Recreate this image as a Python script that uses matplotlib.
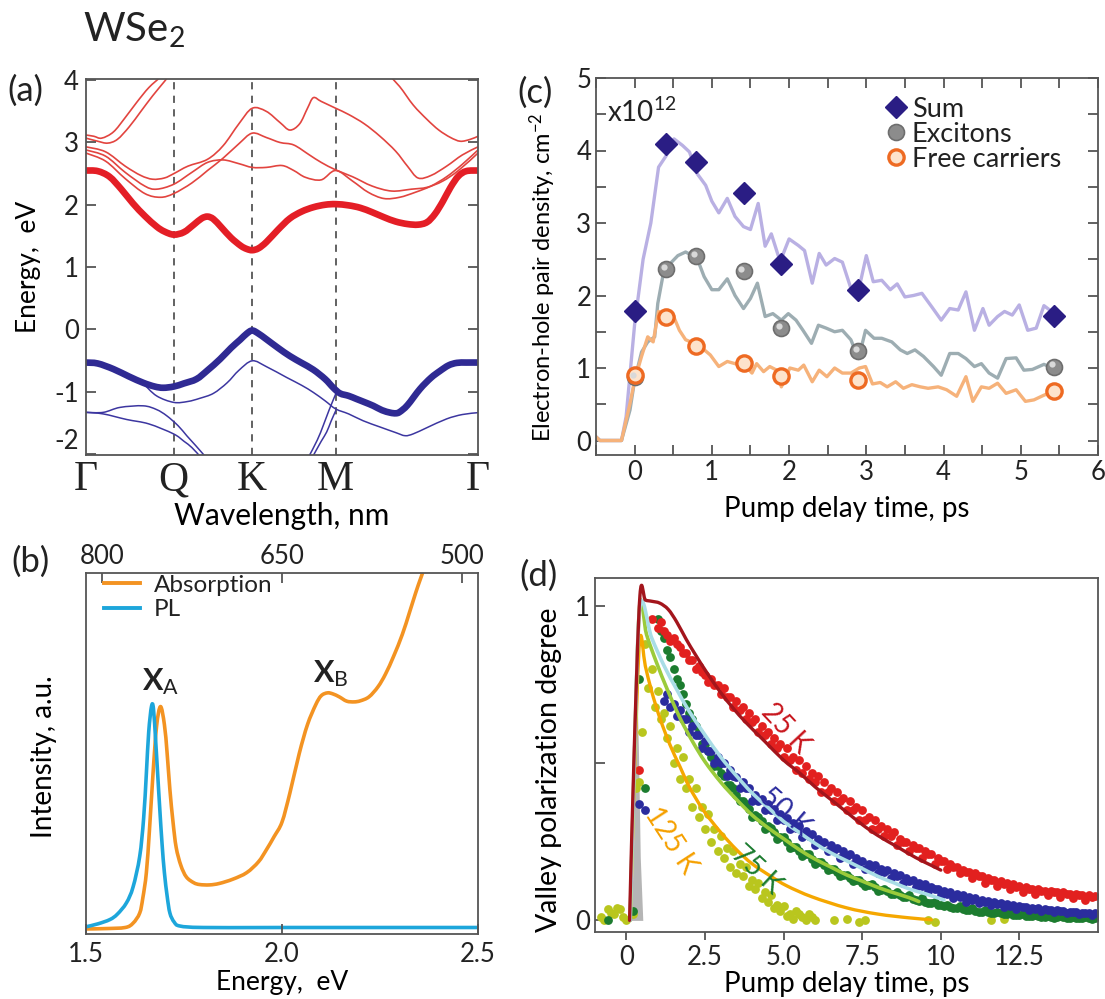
import matplotlib.pyplot as plt
import numpy as np
from matplotlib.path import Path
from matplotlib.patches import PathPatch
from matplotlib.transforms import ScaledTranslation

plt.rcParams.update({
    "font.family": ["Lato", "DejaVu Sans"],
    "mathtext.fontset": "custom",
    "mathtext.rm": "Lato",
    "mathtext.it": "Lato:italic",
    "mathtext.bf": "Lato:bold",
    "axes.unicode_minus": False,
    "axes.edgecolor": "#555555",
    "axes.linewidth": 1.3,
    "xtick.color": "#555555",
    "ytick.color": "#555555",
    "xtick.labelcolor": "#222222",
    "ytick.labelcolor": "#222222",
    "text.color": "#222222",
})

# ---- (a) band structure ---------------------------------------------------
k_sym = [0.0, 0.224, 0.424, 0.637, 1.0]
k_names = ["Γ", "Q", "K", "M", "Γ"]

cb1_k = [0, 0.03, 0.06, 0.09, 0.12, 0.15, 0.18, 0.20, 0.224, 0.25, 0.275, 0.295,
         0.31, 0.325, 0.345, 0.37, 0.395, 0.41, 0.424, 0.44, 0.46, 0.49, 0.52,
         0.55, 0.58, 0.61, 0.637, 0.67, 0.70, 0.73, 0.76, 0.79, 0.82, 0.847,
         0.87, 0.89, 0.91, 0.93, 0.95, 0.97, 1.0]
cb1_e = [2.55, 2.54, 2.45, 2.25, 2.02, 1.82, 1.65, 1.57, 1.52, 1.56, 1.68, 1.78,
         1.81, 1.77, 1.64, 1.47, 1.34, 1.29, 1.27, 1.30, 1.40, 1.60, 1.78,
         1.89, 1.96, 2.00, 2.01, 1.99, 1.95, 1.88, 1.80, 1.73, 1.69, 1.68,
         1.72, 1.85, 2.05, 2.28, 2.46, 2.54, 2.55]

cba_k = [0, 0.05, 0.10, 0.14, 0.17, 0.20, 0.224, 0.26, 0.31, 0.35, 0.39, 0.424,
         0.46, 0.495, 0.52, 0.545, 0.565, 0.58, 0.60, 0.637, 0.67, 0.71, 0.75,
         0.79, 0.82, 0.847, 0.88, 0.92, 0.96, 1.0]
cba_e = [2.93, 2.85, 2.62, 2.47, 2.41, 2.43, 2.50, 2.62, 2.73, 2.95, 3.30, 3.55,
         3.50, 3.32, 3.20, 3.30, 3.55, 3.72, 3.66, 3.55, 3.45, 3.30, 3.10,
         2.86, 2.62, 2.43, 2.47, 2.62, 2.80, 2.93]
cbb_k = [0, 0.05, 0.10, 0.15, 0.18, 0.224, 0.27, 0.31, 0.35, 0.39, 0.424, 0.46,
         0.50, 0.53, 0.56, 0.60, 0.637, 0.68, 0.72, 0.76, 0.80, 0.84, 0.88,
         0.92, 0.96, 1.0]
cbb_e = [2.88, 2.78, 2.52, 2.30, 2.25, 2.33, 2.52, 2.68, 2.72, 2.66, 2.60, 2.60,
         2.63, 2.55, 2.44, 2.40, 2.55, 2.38, 2.20, 2.10, 2.12, 2.20, 2.30,
         2.45, 2.65, 2.88]
cbc_k = [0, 0.05, 0.10, 0.15, 0.19, 0.224, 0.27, 0.31, 0.35, 0.39, 0.424, 0.46,
         0.495, 0.53, 0.57, 0.60, 0.637, 0.68, 0.73, 0.78, 0.83, 0.87, 0.91,
         0.95, 1.0]
cbc_e = [2.83, 2.70, 2.42, 2.18, 2.12, 2.18, 2.35, 2.55, 2.75, 2.98, 3.15, 3.08,
         3.00, 2.96, 2.80, 2.68, 2.56, 2.45, 2.30, 2.22, 2.25, 2.28, 2.38,
         2.55, 2.83]
cbd_k = [0, 0.03, 0.055, 0.08, 0.11, 0.14, 0.17, 0.20, 0.215]
cbd_e = [3.07, 3.02, 2.99, 3.05, 3.25, 3.50, 3.75, 3.98, 4.10]
cbe_k = [0, 0.02, 0.04, 0.07, 0.10, 0.13, 0.16, 0.19, 0.20]
cbe_e = [3.12, 3.10, 3.07, 3.17, 3.40, 3.65, 3.88, 4.05, 4.10]
cbf_k = [0.77, 0.80, 0.835, 0.87, 0.90, 0.93, 0.955, 0.98, 1.0]
cbf_e = [4.10, 3.90, 3.60, 3.37, 3.20, 3.08, 3.02, 3.05, 3.10]

vb1_k = [0, 0.03, 0.07, 0.11, 0.146, 0.175, 0.197, 0.224, 0.25, 0.282, 0.31,
         0.342, 0.37, 0.393, 0.41, 0.424, 0.44, 0.46, 0.49, 0.52, 0.55, 0.58,
         0.61, 0.631, 0.648, 0.67, 0.69, 0.71, 0.733, 0.755, 0.776, 0.79, 0.80,
         0.82, 0.852, 0.88, 0.903, 0.925, 0.946, 0.97, 1.0]
vb1_e = [-0.535, -0.55, -0.64, -0.76, -0.86, -0.92, -0.94, -0.92, -0.87, -0.80,
         -0.66, -0.48, -0.30, -0.17, -0.07, -0.02, -0.07, -0.16, -0.30, -0.43,
         -0.54, -0.65, -0.80, -0.94, -1.03, -1.07, -1.12, -1.17, -1.23, -1.30,
         -1.34, -1.35, -1.33, -1.22, -0.96, -0.78, -0.67, -0.58, -0.54, -0.535,
         -0.535]
vb2_k = [0.146, 0.18, 0.224, 0.26, 0.29, 0.325, 0.36, 0.39, 0.424, 0.46, 0.512,
         0.55, 0.58, 0.61, 0.637, 0.67, 0.707, 0.75, 0.79, 0.814, 0.835, 0.87,
         0.92, 0.96, 1.0]
vb2_e = [-0.87, -1.07, -1.175, -1.16, -1.11, -1.03, -0.86, -0.66, -0.507, -0.60,
         -0.775, -0.90, -1.015, -1.15, -1.28, -1.36, -1.47, -1.57, -1.66, -1.71,
         -1.68, -1.58, -1.44, -1.37, -1.34]
vb3_k = [0, 0.044, 0.087, 0.146, 0.18, 0.206, 0.235, 0.257, 0.28, 0.305]
vb3_e = [-1.335, -1.335, -1.255, -1.23, -1.29, -1.39, -1.55, -1.71, -1.87, -2.05]
vb4_k = [0, 0.044, 0.104, 0.16, 0.223, 0.25, 0.27, 0.292]
vb4_e = [-1.335, -1.36, -1.45, -1.52, -1.68, -1.80, -1.90, -2.05]
vb5_k = [0.568, 0.59, 0.605, 0.62, 0.637]
vb5_e = [-2.05, -1.78, -1.55, -1.30, -1.04]
vb6_k = [0.578, 0.60, 0.614, 0.625, 0.637]
vb6_e = [-2.05, -1.80, -1.65, -1.48, -1.31]

# ---- (b) absorption and PL ---------------------------------------------
abs_e = [1.50, 1.55, 1.60, 1.62, 1.637, 1.645, 1.654, 1.662, 1.671, 1.68, 1.69,
         1.70, 1.707, 1.714, 1.722, 1.73, 1.742, 1.756, 1.775, 1.79, 1.815, 1.84,
         1.875, 1.91, 1.94, 1.96, 1.98, 2.00, 2.02, 2.044, 2.065, 2.086, 2.10,
         2.116, 2.13, 2.146, 2.165, 2.184, 2.20, 2.222, 2.245, 2.264, 2.285,
         2.307, 2.325, 2.341, 2.352, 2.362]
abs_i = [0.014, 0.015, 0.018, 0.03, 0.058, 0.10, 0.17, 0.29, 0.445, 0.575, 0.63,
         0.58, 0.50, 0.40, 0.31, 0.24, 0.19, 0.158, 0.142, 0.137, 0.136, 0.14,
         0.152, 0.17, 0.20, 0.233, 0.27, 0.31, 0.39, 0.50, 0.58, 0.635, 0.66,
         0.668, 0.665, 0.657, 0.645, 0.643, 0.646, 0.657, 0.685, 0.72, 0.77,
         0.83, 0.89, 0.945, 0.98, 1.01]
pl_e = [1.50, 1.53, 1.561, 1.58, 1.603, 1.62, 1.637, 1.647, 1.654, 1.66, 1.667,
        1.672, 1.678, 1.683, 1.688, 1.694, 1.70, 1.707, 1.714, 1.725, 1.74,
        1.80, 2.00, 2.50]
pl_i = [0.02, 0.028, 0.04, 0.055, 0.086, 0.13, 0.215, 0.32, 0.445, 0.56, 0.63,
        0.625, 0.53, 0.44, 0.35, 0.25, 0.17, 0.105, 0.058, 0.033, 0.022,
        0.018, 0.018, 0.018]
top_tick_ev = [1.54, 2.00, 2.46]
top_tick_nm = ["800", "650", "500"]

# ---- (c) carrier densities (x1e12 cm^-2) ----------------------------------
mark_t = [0.0, 0.41, 0.80, 1.41, 1.90, 2.89, 5.43]
sum_pts = [1.78, 4.09, 3.84, 3.42, 2.43, 2.07, 1.72]
exc_pts = [0.88, 2.37, 2.54, 2.34, 1.55, 1.24, 1.02]
free_pts = [0.91, 1.71, 1.30, 1.07, 0.89, 0.83, 0.68]

sum_t = [-0.5, -0.45, -0.17, -0.11, 0.0, 0.11, 0.21, 0.31, 0.41, 0.51, 0.62,
         0.71, 0.81, 0.92, 1.0, 1.09, 1.2, 1.3, 1.41, 1.5, 1.6, 1.69, 1.77,
         1.86, 1.9, 2.0, 2.12, 2.2, 2.3, 2.39, 2.48, 2.59, 2.69, 2.8, 2.9, 3.0,
         3.09, 3.2, 3.31, 3.4, 3.5, 3.61, 3.72, 3.85, 3.97, 4.08, 4.19, 4.29,
         4.4, 4.51, 4.59, 4.7, 4.79, 4.89, 4.98, 5.09, 5.2, 5.3, 5.4]
sum_y = [0.05, 0.0, 0.0, 0.33, 1.6, 2.5, 3.0, 3.77, 3.93, 4.16, 4.07, 3.98,
         3.68, 3.52, 3.3, 3.14, 3.34, 3.09, 2.95, 2.91, 3.27, 2.68, 2.85, 2.55,
         2.51, 2.78, 2.69, 2.62, 2.17, 2.58, 2.42, 2.51, 2.46, 2.1, 2.07, 2.55,
         2.19, 2.21, 2.08, 2.16, 1.98, 2.0, 2.03, 1.84, 1.66, 1.82, 1.8, 2.05,
         1.52, 1.82, 1.59, 1.71, 1.78, 1.73, 1.87, 1.52, 1.55, 1.86, 1.78]
exc_t = [-0.5, -0.45, -0.17, -0.06, 0.0, 0.09, 0.17, 0.26, 0.3, 0.38, 0.46,
         0.56, 0.66, 0.75, 0.81, 0.9, 1.0, 1.09, 1.2, 1.3, 1.41, 1.5, 1.59,
         1.69, 1.79, 1.9, 1.99, 2.09, 2.18, 2.29, 2.38, 2.48, 2.59, 2.69, 2.8,
         2.9, 2.99, 3.1, 3.2, 3.33, 3.44, 3.53, 3.63, 3.74, 3.87, 3.97, 4.08,
         4.19, 4.29, 4.4, 4.49, 4.59, 4.7, 4.81, 4.94, 5.04, 5.15, 5.3, 5.42]
exc_y = [0.05, 0.0, 0.0, 0.42, 0.83, 1.22, 1.36, 1.43, 1.89, 2.35, 2.44, 2.55,
         2.6, 2.55, 2.51, 2.26, 2.08, 2.08, 2.23, 2.0, 1.82, 1.96, 2.17, 1.71,
         1.75, 1.66, 1.75, 1.66, 1.52, 1.34, 1.59, 1.55, 1.5, 1.52, 1.39, 1.13,
         1.52, 1.41, 1.41, 1.36, 1.25, 1.2, 1.25, 1.16, 1.02, 0.9, 1.2, 1.2,
         1.13, 1.02, 1.06, 0.93, 0.86, 1.13, 1.14, 0.97, 0.98, 1.05, 1.0]
free_t = [-0.5, -0.45, -0.17, -0.06, 0.0, 0.09, 0.17, 0.24, 0.31, 0.41, 0.49,
          0.58, 0.66, 0.77, 0.88, 0.98, 1.09, 1.2, 1.3, 1.41, 1.52, 1.58, 1.67,
          1.75, 1.84, 1.9, 2.01, 2.12, 2.19, 2.3, 2.39, 2.49, 2.59, 2.69, 2.8,
          2.91, 2.99, 3.08, 3.18, 3.27, 3.38, 3.48, 3.59, 3.7, 3.8, 3.93, 4.04,
          4.17, 4.29, 4.38, 4.49, 4.59, 4.7, 4.81, 4.94, 5.06, 5.17, 5.29, 5.42]
free_y = [0.05, 0.0, 0.0, 0.51, 0.83, 1.16, 1.43, 1.36, 1.78, 1.73, 1.75, 1.52,
          1.39, 1.34, 1.27, 1.18, 1.02, 1.09, 1.06, 1.06, 0.93, 1.06, 0.95, 1.02,
          0.97, 0.74, 1.0, 0.97, 1.04, 0.81, 0.97, 0.88, 1.0, 0.93, 0.93, 1.0,
          1.02, 0.78, 0.8, 0.74, 0.81, 0.72, 0.77, 0.74, 0.72, 0.74, 0.7, 0.61,
          0.88, 0.54, 0.74, 0.72, 0.79, 0.65, 0.7, 0.54, 0.56, 0.62, 0.68]

# ---- (d) valley polarization ------------------------------------------------
# two interleaved delay scans, 0.2 ps steps, offset by 0.1 ps
delay = np.arange(-0.8, 14.81, 0.2)
delay2 = delay + 0.1
nan = np.nan
vp_25 = [nan, nan, nan, nan, nan, nan, 0.48, nan,
         0.96, 0.93, 0.92, 0.89, 0.88, 0.85, 0.83, 0.80, 0.79, 0.76, 0.75, 0.72,
         0.71, 0.68, 0.67, 0.64, 0.63, 0.60, 0.59, 0.56, 0.55, 0.52, 0.51, 0.48,
         0.47, 0.45, 0.44, 0.41, 0.41, 0.38, 0.38, 0.35, 0.35, 0.32, 0.32, 0.29,
         0.29, 0.27, 0.27, 0.24, 0.25, 0.22, 0.23, 0.20, 0.21, 0.18, 0.19, 0.165,
         0.17, 0.15, 0.155, 0.135, 0.14, 0.12, 0.13, 0.11, 0.115, 0.10, 0.105,
         0.09, 0.10, 0.085, 0.095, 0.08, 0.09, 0.075, 0.085, 0.07, 0.08, 0.065,
         0.075]
vp_25b = [nan, nan, nan, nan, nan, nan, nan, nan, nan,
          0.95, 0.91, 0.90, 0.87, 0.85, 0.83, 0.81, 0.78, 0.77, 0.75, 0.74,
          0.71, 0.70, 0.68, 0.66, 0.64, 0.62, 0.60, 0.58, 0.56, 0.55, 0.52,
          0.51, 0.49, 0.47, 0.46, 0.44, 0.42, 0.41, 0.39, 0.38, 0.36, 0.35,
          0.33, 0.32, 0.30, 0.29, 0.28, 0.26, 0.25, 0.24, 0.23, 0.22, 0.21,
          0.20, 0.19, 0.18, 0.17, 0.16, 0.155, 0.15, 0.14, 0.135, 0.13, 0.125,
          0.12, 0.115, 0.11, 0.105, 0.10, 0.10, 0.095, 0.095, 0.09, 0.09,
          0.085, 0.085, 0.08, 0.08, 0.078]
vp_50 = [nan, nan, nan, nan, nan, nan, 0.37, 0.35, nan, nan,
         0.70, 0.68, 0.65, 0.64, 0.60, 0.59, 0.55, 0.54, 0.50, 0.50, 0.46, 0.46,
         0.42, 0.42, 0.38, 0.38, 0.35, 0.35, 0.32, 0.32, 0.29, 0.295, 0.265,
         0.27, 0.24, 0.245, 0.22, 0.225, 0.20, 0.205, 0.18, 0.185, 0.165, 0.17,
         0.15, 0.155, 0.135, 0.14, 0.12, 0.125, 0.105, 0.11, 0.095, 0.10, 0.08,
         0.085, 0.07, 0.075, 0.06, 0.065, 0.055, 0.058, 0.048, 0.052, 0.042,
         0.046, 0.037, 0.041, 0.033, 0.037, 0.03, 0.033, 0.026, 0.03, 0.024,
         0.027, 0.02, 0.024, 0.018]
vp_50b = [nan, nan, nan, nan, nan, nan, nan, nan, nan, nan,
          0.72, 0.69, 0.67, 0.64, 0.62, 0.59, 0.57, 0.54, 0.52, 0.50, 0.48,
          0.455, 0.44, 0.42, 0.40, 0.385, 0.37, 0.355, 0.34, 0.325, 0.31,
          0.30, 0.285, 0.275, 0.26, 0.25, 0.24, 0.23, 0.22, 0.21, 0.20, 0.19,
          0.18, 0.175, 0.165, 0.16, 0.15, 0.145, 0.135, 0.13, 0.12, 0.115,
          0.105, 0.10, 0.095, 0.09, 0.085, 0.08, 0.075, 0.07, 0.066, 0.062,
          0.058, 0.055, 0.052, 0.048, 0.046, 0.043, 0.04, 0.038, 0.036, 0.034,
          0.032, 0.03, 0.028, 0.027, 0.025, 0.024, 0.022]
vp_75 = [nan, 0.0, nan, nan, nan, 0.03, 0.77, 0.42, nan,
         0.96, 0.90, 0.84, 0.77, 0.72, 0.66, 0.62, 0.56, 0.54, 0.49, 0.47, 0.43,
         0.42, 0.38, 0.37, 0.33, 0.33, 0.29, 0.295, 0.26, 0.265, 0.23, 0.235,
         0.205, 0.21, 0.18, 0.185, 0.16, 0.165, 0.14, 0.145, 0.125, 0.13, 0.11,
         0.115, 0.095, 0.10, 0.085, 0.09, 0.075, 0.08, 0.065, 0.07, 0.055, 0.06,
         0.048, 0.05, 0.04, 0.045, 0.034, 0.038, 0.028, 0.033, 0.024, 0.028,
         0.02, 0.024, 0.016, 0.02, 0.013, 0.017, 0.011, 0.015, 0.009, 0.013,
         0.008, 0.012, 0.006, 0.01, 0.005]
vp_75b = [nan, nan, nan, nan, nan, nan, nan, nan, nan,
          0.92, 0.86, 0.80, 0.75, 0.69, 0.64, 0.60, 0.56, 0.52, 0.49, 0.46,
          0.43, 0.40, 0.38, 0.355, 0.335, 0.315, 0.30, 0.28, 0.265, 0.25,
          0.235, 0.22, 0.21, 0.195, 0.185, 0.175, 0.165, 0.155, 0.145, 0.135,
          0.128, 0.12, 0.112, 0.105, 0.098, 0.092, 0.085, 0.08, 0.074, 0.068,
          0.063, 0.058, 0.054, 0.05, 0.046, 0.042, 0.039, 0.036, 0.033, 0.03,
          0.028, 0.026, 0.024, 0.022, 0.02, 0.018, 0.017, 0.015, 0.014, 0.013,
          0.012, 0.011, 0.01, 0.01, 0.009, 0.008, 0.008, 0.007, 0.007]
vp_125 = [0.01, 0.035, 0.02, 0.035, 0.0, 0.02, 0.44, 0.88, 0.80, 0.73, 0.66,
          0.62, 0.55, 0.52, 0.45, 0.42, 0.36, 0.34, 0.29, 0.27, 0.23, 0.22, 0.18,
          0.17, 0.13, 0.12, 0.09, 0.08, 0.05, 0.045, 0.02, 0.03, 0.01, 0.02, 0.0,
          nan, nan, 0.0, nan, 0.005, nan, -0.005, 0.0,
          nan, nan, nan, nan, nan, nan, nan, nan, nan,
          0.0, -0.005,
          nan, nan, nan, nan, nan, nan, nan, nan,
          0.0, nan, 0.005,
          nan, nan, nan, nan, nan, nan, nan, nan, nan, nan, nan, nan, nan, nan]
vp_125b = [0.0, 0.025, 0.04, 0.01, nan, 0.42, 0.60, 0.74, 0.68, 0.64, 0.58,
           0.50, 0.45, 0.42, 0.36, 0.33, 0.29, 0.25, 0.22, 0.20, 0.17, 0.15,
           0.14, 0.11, 0.10, 0.07, 0.06, 0.04, 0.03, 0.015, 0.005, 0.02, 0.0,
           0.01,
           nan, nan, nan, nan, nan, nan, nan, nan, nan, nan, nan, nan, nan, nan,
           nan, nan, nan, nan, nan, nan, nan, nan, nan, nan, nan, nan, nan, nan,
           nan, nan, nan, nan, nan, nan, nan, nan, nan, nan, nan, nan, nan, nan,
           nan, nan, nan]

fit25_t = [0.10, 0.25, 0.43, 0.6, 0.8, 1.06, 1.33, 1.6, 1.9, 2.2, 2.55, 3.0,
           3.4, 3.8, 4.4, 5.0, 5.5, 6.0, 6.5, 7.0, 7.5, 8.0, 8.6, 9.2, 9.7, 10.0]
fit25_y = [0.0, 0.55, 1.035, 1.02, 1.016, 1.01, 0.99, 0.95, 0.895, 0.845, 0.79,
           0.725, 0.675, 0.63, 0.57, 0.51, 0.47, 0.425, 0.385, 0.345, 0.305,
           0.27, 0.235, 0.20, 0.175, 0.16]
fit50_t = [0.12, 0.25, 0.43, 0.8, 1.2, 1.6, 2.0, 2.5, 3.0, 3.5, 4.0, 4.5, 5.0,
           5.5, 6.0, 6.5, 7.0, 7.5, 8.0, 8.5, 9.0, 9.5, 10.1]
fit50_y = [0.0, 0.5, 1.0, 0.9, 0.81, 0.735, 0.665, 0.59, 0.52, 0.46, 0.405,
           0.36, 0.315, 0.28, 0.245, 0.215, 0.19, 0.165, 0.14, 0.12, 0.10,
           0.085, 0.065]
fit75_t = [0.12, 0.25, 0.42, 0.64, 0.96, 1.3, 1.7, 2.1, 2.5, 3.0, 3.5, 4.0, 4.5,
           5.0, 5.5, 6.0, 6.5, 7.0, 7.5, 8.0, 8.5, 9.0, 9.3]
fit75_y = [0.0, 0.5, 1.0, 0.91, 0.82, 0.735, 0.645, 0.57, 0.505, 0.44, 0.385,
           0.335, 0.295, 0.26, 0.225, 0.195, 0.17, 0.145, 0.125, 0.105, 0.088,
           0.072, 0.06]
fit125_t = [0.12, 0.25, 0.42, 0.6, 0.8, 1.06, 1.38, 1.7, 2.0, 2.45, 3.0, 3.5,
            4.0, 4.6, 5.1, 5.9, 7.0, 8.0, 9.0, 9.7]
fit125_y = [0.0, 0.45, 0.89, 0.81, 0.73, 0.645, 0.56, 0.49, 0.425, 0.35, 0.28,
            0.225, 0.18, 0.14, 0.11, 0.075, 0.04, 0.02, 0.008, 0.002]
pulse_t = [0.15, 0.22, 0.28, 0.33, 0.38, 0.44, 0.52]
pulse_y = [0.0, 0.2, 0.55, 0.75, 0.55, 0.2, 0.0]


def curve(ax, x, y, **kw):
    """Draw a smooth curve through (x, y) with Catmull-Rom Bezier segments."""
    p = np.column_stack([x, y]).astype(float)
    verts, codes = [p[0]], [Path.MOVETO]
    n = len(p)
    for i in range(n - 1):
        p0 = p[max(i - 1, 0)]
        p1, p2 = p[i], p[i + 1]
        p3 = p[min(i + 2, n - 1)]
        verts += [p1 + (p2 - p0) / 6, p2 - (p3 - p1) / 6, p2]
        codes += [Path.CURVE4] * 3
    patch = PathPatch(Path(verts, codes), fill=False, capstyle="round",
                      joinstyle="round", **kw)
    ax.add_patch(patch)
    return patch


fig = plt.figure(figsize=(11.05, 9.99), dpi=100)
W, H = 1105, 999


def box(l, r, t, b):
    return [l / W, 1 - b / H, (r - l) / W, (b - t) / H]


ax_a = fig.add_axes(box(86, 478, 79, 455))
ax_b = fig.add_axes(box(86, 478, 573, 934))
ax_c = fig.add_axes(box(596, 1098, 78, 455))
ax_d = fig.add_axes(box(595, 1098, 578, 932))

TICK = 18.5

# ---- (a)
red, red_thin = "#E41E26", "#E2443F"
blue = "#2F2A93"
for kk, ee in [(cba_k, cba_e), (cbb_k, cbb_e), (cbc_k, cbc_e), (cbd_k, cbd_e),
               (cbe_k, cbe_e), (cbf_k, cbf_e)]:
    curve(ax_a, kk, ee, edgecolor=red_thin, lw=1.2)
curve(ax_a, cb1_k, cb1_e, edgecolor=red, lw=4.8)
for kk, ee in [(vb2_k, vb2_e), (vb3_k, vb3_e), (vb4_k, vb4_e), (vb5_k, vb5_e),
               (vb6_k, vb6_e)]:
    curve(ax_a, kk, ee, edgecolor="#3C36A0", lw=1.1)
curve(ax_a, vb1_k, vb1_e, edgecolor=blue, lw=4.8)
for k in k_sym[1:-1]:
    ax_a.axvline(k, color="#555555", lw=1.3, ls=(0, (4, 3.5)), zorder=0)
ax_a.set_xlim(0, 1)
ax_a.set_ylim(-2.02, 4.02)
ax_a.set_yticks(range(-2, 5))
ax_a.set_xticks(k_sym, k_names, fontfamily="Liberation Serif", fontsize=30)
ax_a.tick_params(axis="x", length=0, pad=4)
ax_a.tick_params(axis="y", direction="in", length=7, width=1.3, labelsize=TICK,
                 right=True, pad=5)
ax_a.get_yticklabels()[0].set_va("bottom")
ax_a.set_ylabel("Energy,  eV", fontsize=19)
ax_a.yaxis.set_label_coords(-0.115, 0.5)
ax_a.set_xlabel("Wavelength, nm", fontsize=21.5, va="top")
ax_a.xaxis.set_label_coords(0.5, -0.125)

# ---- (b)
curve(ax_b, abs_e, abs_i, edgecolor="#F39322", lw=2.6)
curve(ax_b, pl_e, pl_i, edgecolor="#1DA6DB", lw=2.6)
ax_b.plot([], [], color="#F39322", lw=2.8, label="Absorption")
ax_b.plot([], [], color="#1DA6DB", lw=2.8, label="PL")
ax_b.set_xlim(1.5, 2.5)
ax_b.set_ylim(0, 1)
ax_b.set_yticks([])
ax_b.set_xticks([1.5, 2.0, 2.5], ["1.5", "2.0", "2.5"])
ax_b.tick_params(axis="x", direction="in", length=7, width=1.3, labelsize=TICK,
                 pad=6)
top = ax_b.secondary_xaxis("top")
top.set_xticks(top_tick_ev, top_tick_nm)
top.tick_params(direction="in", length=7, width=1.3, labelsize=TICK, pad=3)
top.spines["top"].set_visible(False)
ax_b.set_xlabel("Energy,  eV", fontsize=19, va="top")
ax_b.xaxis.set_label_coords(0.5, -0.1)
ax_b.set_ylabel("Intensity, a.u.", fontsize=20)
ax_b.yaxis.set_label_coords(-0.075, 0.49)
ax_b.legend(loc="upper left", bbox_to_anchor=(0.045, 0.995), frameon=False,
            fontsize=17.5, handlelength=1.5, handletextpad=0.55, labelspacing=0.15,
            borderpad=0, borderaxespad=0)
ax_b.text(1.69, 0.70, r"$\mathbf{X}_{\mathrm{A}}$", fontsize=22, ha="center",
          va="center")
ax_b.text(2.125, 0.72, r"$\mathbf{X}_{\mathrm{B}}$", fontsize=22, ha="center",
          va="center")

# ---- (c)
ax_c.plot(sum_t, sum_y, color="#B9B0E3", lw=2.4, zorder=2)
ax_c.plot(exc_t, exc_y, color="#9DADB2", lw=2.4, zorder=2)
ax_c.plot(free_t, free_y, color="#F6B27A", lw=2.4, zorder=2)
h_sum, = ax_c.plot(mark_t, sum_pts, "D", color="#2A1D84", ms=11, zorder=4,
                   label="Sum")
h_exc, = ax_c.plot(mark_t, exc_pts, "o", mfc="#8C8C8C", mec="#6E6E6E", mew=1.2,
                   ms=11.5, zorder=4, label="Excitons")
shine = ax_c.transData + ScaledTranslation(-1.5 / 72, 1.5 / 72, fig.dpi_scale_trans)
ax_c.plot(mark_t, exc_pts, "o", color="#D9D9D9", ms=4.5, mew=0, zorder=5,
          transform=shine)
h_free, = ax_c.plot(mark_t, free_pts, "o", mfc="#FDE3CC", mec="#EE6A22", mew=2.4,
                    ms=11, zorder=4, label="Free carriers")
ax_c.set_xlim(-0.5, 6)
ax_c.set_ylim(-0.2, 5.0)
ax_c.set_xticks(range(0, 7))
ax_c.set_yticks(range(0, 6))
ax_c.set_xticks(np.arange(-0.5, 6, 0.5), minor=True)
ax_c.set_yticks(np.arange(0, 5, 0.5), minor=True)
ax_c.tick_params(which="both", direction="in", length=7, width=1.3,
                 top=True, right=True, labelsize=TICK)
ax_c.set_xlabel("Pump delay time, ps", fontsize=20, va="top")
ax_c.xaxis.set_label_coords(0.5, -0.11)
ax_c.set_ylabel(r"Electron-hole pair density, cm$^{-2}$", fontsize=17)
ax_c.yaxis.set_label_coords(-0.075, 0.47)
ax_c.text(0.022, 0.91, r"x10$^{12}$", transform=ax_c.transAxes, fontsize=20,
          va="center", ha="left")
ax_c.legend(handles=[h_sum, h_exc, h_free], loc="upper left",
            bbox_to_anchor=(0.578, 0.95), frameon=False, fontsize=19.5,
            handlelength=0.7, handletextpad=0.25, labelspacing=0.0,
            borderpad=0, borderaxespad=0)

# ---- (d)
ax_d.fill_between(pulse_t, pulse_y, color="#B5B5B5", lw=0, zorder=1)
dot = dict(s=40, lw=0, zorder=2)
for tt, vals, col in [(delay, vp_125, "#B9C61E"), (delay2, vp_125b, "#B9C61E"),
                      (delay, vp_75, "#1C7C2F"), (delay2, vp_75b, "#1C7C2F"),
                      (delay, vp_50, "#2B2C9E"), (delay2, vp_50b, "#2B2C9E"),
                      (delay, vp_25, "#E2201F"), (delay2, vp_25b, "#E2201F")]:
    ax_d.scatter(tt, vals, color=col, **dot)
curve(ax_d, fit125_t, fit125_y, edgecolor="#F5A700", lw=2.4, zorder=3)
curve(ax_d, fit75_t, fit75_y, edgecolor="#9BCB3B", lw=2.6, zorder=3)
curve(ax_d, fit50_t, fit50_y, edgecolor="#A9DDE6", lw=2.6, zorder=3)
curve(ax_d, fit25_t, fit25_y, edgecolor="#A3151C", lw=2.4, zorder=3)
ax_d.text(5.05, 0.61, "25 K", color="#C8161D", fontsize=20, rotation=-47,
          ha="center", va="center", rotation_mode="anchor")
ax_d.text(5.05, 0.345, "50 K", color="#2B2C9E", fontsize=20, rotation=-41,
          ha="center", va="center", rotation_mode="anchor")
ax_d.text(4.15, 0.16, "75 K", color="#1C7C2F", fontsize=20, rotation=-43,
          ha="center", va="center", rotation_mode="anchor")
ax_d.text(1.4, 0.255, "125 K", color="#F5A000", fontsize=20, rotation=-57,
          ha="center", va="center", rotation_mode="anchor")
ax_d.set_xlim(-1.0, 15.0)
ax_d.set_ylim(-0.037, 1.09)
ax_d.set_xticks([0, 2.5, 5, 7.5, 10, 12.5], ["0", "2.5", "5.0", "7.5", "10", "12.5"])
ax_d.set_yticks([0, 0.5, 1], ["0", "", "1"])
ax_d.tick_params(axis="x", direction="out", length=6, width=1.3, labelsize=TICK)
ax_d.tick_params(axis="y", direction="in", length=7, width=1.3, labelsize=TICK)
ax_d.set_xlabel("Pump delay time, ps", fontsize=20, va="top")
ax_d.xaxis.set_label_coords(0.5, -0.11)
ax_d.set_ylabel("Valley polarization degree", fontsize=20.5)
ax_d.yaxis.set_label_coords(-0.065, 0.457)

# panel tags and title
fig.text(83 / W, 1 - 42 / H, "WSe$_2$", fontsize=29, va="baseline")
fig.text(7 / W, 1 - 91 / H, "(a)", fontsize=25, va="center")
fig.text(11 / W, 1 - 562 / H, "(b)", fontsize=25, va="center")
fig.text(517 / W, 1 - 93 / H, "(c)", fontsize=25, va="center")
fig.text(519 / W, 1 - 576 / H, "(d)", fontsize=25, va="center")

fig.savefig("out.png", dpi=100)
